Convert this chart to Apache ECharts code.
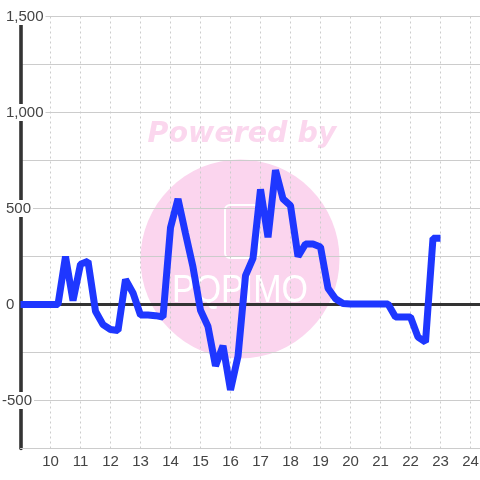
<!DOCTYPE html>
<html>
<head>
<meta charset="utf-8">
<style>html,body{margin:0;padding:0;background:#fff}#chart1{width:480px;height:480px}</style>
<script src="https://cdn.jsdelivr.net/npm/echarts@6/dist/echarts.min.js"></script>
</head>
<body>
<div id="chart1"></div>
<script>
// hour of day, one point every 15 min
var hours = [9,9.25,9.5,9.75,10,10.25,10.5,10.75,11,11.25,11.5,11.75,12,12.25,12.5,12.75,13,13.25,13.5,13.75,14,14.25,14.5,14.75,15,15.25,15.5,15.75,16,16.25,16.5,16.75,17,17.25,17.5,17.75,18,18.25,18.5,18.75,19,19.25,19.5,19.75,20,20.25,20.5,20.75,21,21.25,21.5,21.75,22,22.25,22.5,22.75,23];
var values = [0,0,0,0,0,0,250,20,210,225,-35,-105,-130,-135,130,60,-55,-55,-58,-65,400,550,370,195,-30,-115,-320,-215,-445,-270,150,240,600,350,700,550,515,250,315,315,300,85,30,5,3,3,3,3,3,3,-65,-65,-65,-170,-195,345,345];
var yTicks = [0,500,1000,1500];
var yTicksNeg = [-500];

var myChart = echarts.init(document.getElementById('chart1'));
var fmt = function (v) { return String(v).replace(/\B(?=(\d{3})+$)/g, ','); };
var textColor = '#444';
var labelFont = 15;

var option = {
    animation: false,
    backgroundColor: '#fff',
    grid: {left: 20.5, right: 0, top: 16.5, bottom: 31.5, outerBoundsMode: 'none'},
    xAxis: {
        type: 'value',
        min: 9,
        max: 9 + 459.5 / 30,
        interval: 1,
        axisLine: {show: true, onZero: false, lineStyle: {color: '#ccc', width: 1}},
        axisTick: {show: false},
        axisLabel: {
            color: textColor, fontSize: labelFont, fontFamily: 'Liberation Sans', margin: 6,
            showMinLabel: false, showMaxLabel: false
        },
        splitLine: {show: true, showMinLine: false, lineStyle: {color: '#ccc', type: [2, 3], width: 1}}
    },
    yAxis: [{
        type: 'value',
        min: -750,
        max: 1500,
        interval: 250,
        axisLine: {show: true, onZero: false, lineStyle: {color: '#333', width: 3.6}},
        axisTick: {show: false},
        axisLabel: {
            customValues: yTicks,
            formatter: fmt,
            color: textColor, fontSize: labelFont, fontFamily: 'Liberation Sans',
            align: 'left', margin: 14.5,
            backgroundColor: '#fff', padding: [2, 2, 0, 0]
        },
        splitLine: {show: true, lineStyle: {color: '#ccc', width: 1}}
    }, {
        // negative label hangs its minus sign left of the others
        type: 'value',
        position: 'left',
        min: -750,
        max: 1500,
        interval: 250,
        axisLine: {show: false},
        axisTick: {show: false},
        axisLabel: {
            customValues: yTicksNeg,
            color: textColor, fontSize: labelFont, fontFamily: 'Liberation Sans',
            align: 'left', margin: 18.5,
            backgroundColor: '#fff', padding: [2, 2, 0, 0]
        },
        splitLine: {show: false}
    }],
    graphic: [
        {type: 'circle', z: -10, silent: true, shape: {cx: 240, cy: 259, r: 99.5}, style: {fill: '#fbd5ee'}},
        {type: 'text', z: -9, silent: true, x: 242, y: 135, style: {
            text: 'Powered by', font: 'italic bold 28.5px "DejaVu Sans"', fill: '#fbd7ee',
            align: 'center', verticalAlign: 'middle'
        }},
        {type: 'rect', z: -9, silent: true, shape: {x: 225, y: 205, width: 34, height: 53, r: 5},
            style: {fill: 'none', stroke: '#fff', lineWidth: 2}},
        {type: 'text', z: -9, silent: true, x: 240, y: 291, scaleY: 1.15, style: {
            text: 'PQPIMO', font: '34px "Liberation Sans"', fill: '#fff',
            align: 'center', verticalAlign: 'middle'
        }}
    ],
    series: [{
        name: 'zero',
        type: 'line',
        z: 1,
        data: [],
        silent: true,
        markLine: {
            silent: true,
            symbol: 'none',
            label: {show: false},
            lineStyle: {color: '#333', width: 3, type: 'solid'},
            data: [{yAxis: 0}]
        }
    }, {
        name: 'value',
        type: 'line',
        z: 5,
        showSymbol: false,
        symbol: 'none',
        lineStyle: {color: '#1e37ff', width: 7, join: 'bevel'},
        data: hours.map(function (h, i) { return [h, values[i]]; })
    }]
};
myChart.setOption(option);
</script>
</body>
</html>
